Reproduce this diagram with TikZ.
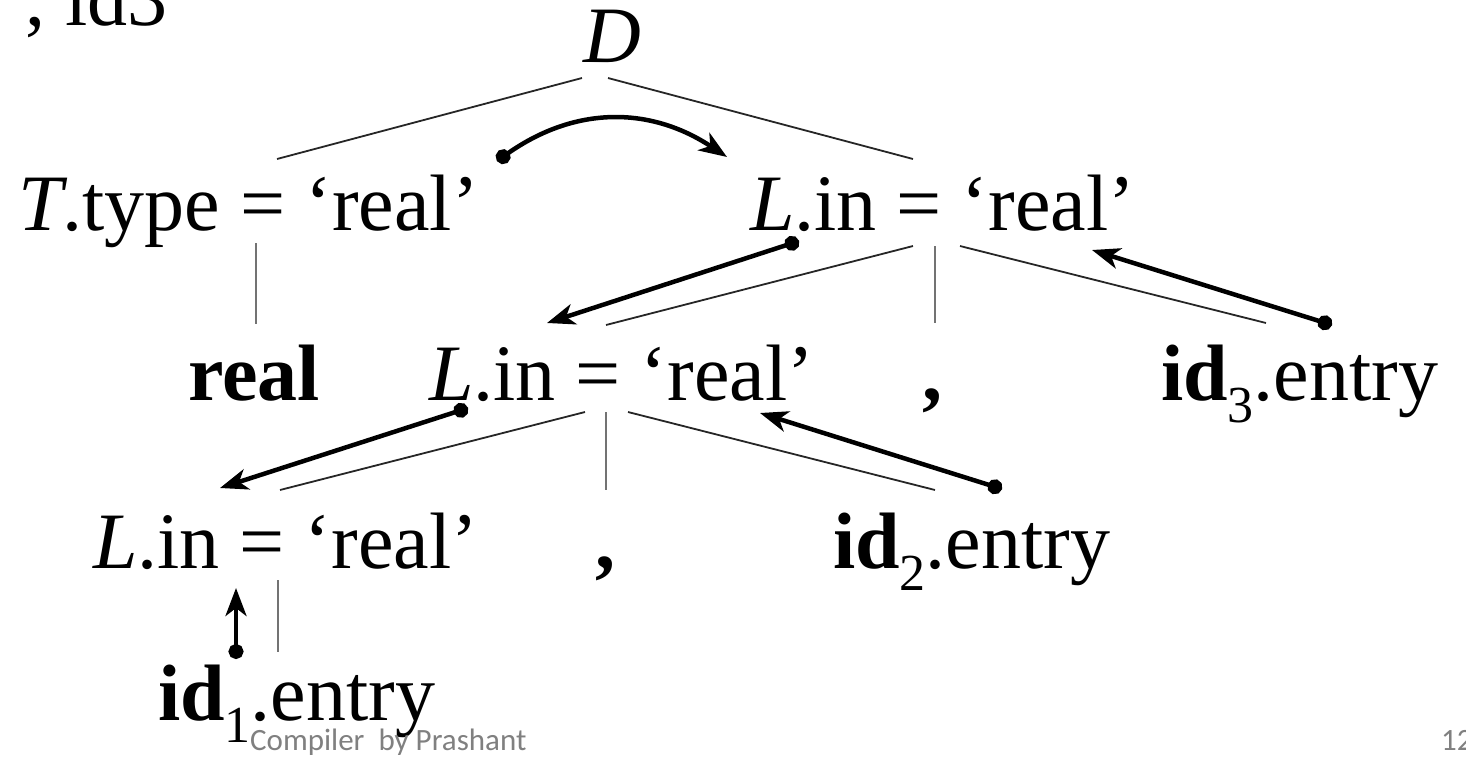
\documentclass[tikz,border=0pt]{standalone}
\usepackage{fontspec}
\setmainfont{Liberation Serif}
\newfontfamily\footfont{Carlito}
\usepackage{tikz}
\usetikzlibrary{arrows.meta, calc}

\newcommand{\idsub}[1]{\raisebox{-22pt}{\fontsize{52}{52}\selectfont #1}}

\begin{document}
\begin{tikzpicture}[
    x=1pt, y=-1pt,
    attr/.style={inner sep=0pt, anchor=base west, font=\fontsize{80}{96}\selectfont},
    edge/.style={line width=1.8pt, black!85},
    vedge/.style={line width=2.2pt, black!55},
    dep/.style={line width=4.5pt, {Circle[length=15pt]}-{Stealth[length=28pt, width=21pt, inset=8pt]}},
    foot/.style={inner sep=0pt, anchor=base west, font=\footfont\fontsize{31}{36}\selectfont, text=black!50}
]
\useasboundingbox (0,0) rectangle (1466,756);
\clip (0,0) rectangle (1466,756);

% Nodes
\node (prev) [attr] at (25,25) {, id3};
\node (D) [attr] at (583,62) {\textit{D}};
\node (T) [attr] at (18,230) {\textit{T}.type = `real'};
\node (Lr1) [attr] at (750,230) {\textit{L}.in = `real'};
\node (real) [attr] at (188,400) {\textbf{real}};
\node (Lr2) [attr] at (429,400) {\textit{L}.in = `real'};
\node (c1) [attr, anchor=base] at (932,400) {\textbf{,}};
\node (id3) [attr] at (1161,400) {\textbf{id}\idsub{3}.entry};
\node (Lr3) [attr] at (93,568) {\textit{L}.in = `real'};
\node (c2) [attr, anchor=base] at (605,568) {\textbf{,}};
\node (id2) [attr] at (833,568) {\textbf{id}\idsub{2}.entry};
\node (id1) [attr] at (158,720) {\textbf{id}\idsub{1}.entry};
\node (foot) [foot] at (250,750) {Compiler\ \ by Prashant};
\node (page) [foot] at (1441,750) {12};

% Connections
\draw [edge] ($(D.base west)+(-1,16)$) -- ($(T.base west)+(259,-71)$);
\draw [edge] ($(D.base west)+(25,16)$) -- ($(Lr1.base west)+(163,-71)$);
\draw [vedge] ($(T.base west)+(238,13)$) -- ($(real.base west)+(68,-76)$);
\draw [edge] ($(Lr1.base west)+(163,16)$) -- ($(Lr2.base west)+(177,-75)$);
\draw [vedge] ($(Lr1.base west)+(185,16)$) -- ($(c1.base)+(3,-77)$);
\draw [edge] ($(Lr1.base west)+(210,16)$) -- ($(id3.base west)+(105,-77)$);
\draw [edge] ($(Lr2.base west)+(156,12)$) -- ($(Lr3.base west)+(187,-78)$);
\draw [vedge] ($(Lr2.base west)+(177,12)$) -- ($(c2.base)+(1,-78)$);
\draw [edge] ($(Lr2.base west)+(199,12)$) -- ($(id2.base west)+(102,-78)$);
\draw [vedge] ($(Lr3.base west)+(185,12)$) -- ($(id1.base west)+(120,-68)$);

% Dependencies
\draw [dep] ($(T.base west)+(479,-69)$) .. controls ($(T.base west)+(557,-124)$) and ($(Lr1.base west)+(-100,-124)$) .. ($(Lr1.base west)+(-23,-73)$);
\draw [dep] ($(Lr1.base west)+(49,11)$) -- ($(Lr2.base west)+(118,-77)$);
\draw [dep] ($(id3.base west)+(171,-75)$) -- ($(Lr1.base west)+(342,20)$);
\draw [dep] ($(Lr2.base west)+(39,8)$) -- ($(Lr3.base west)+(127,-80)$);
\draw [dep] ($(id2.base west)+(169,-79)$) -- ($(Lr2.base west)+(331,13)$);
\draw [dep] ($(id1.base west)+(78,-61)$) -- ($(Lr3.base west)+(143,20)$);

\end{tikzpicture}
\end{document}
